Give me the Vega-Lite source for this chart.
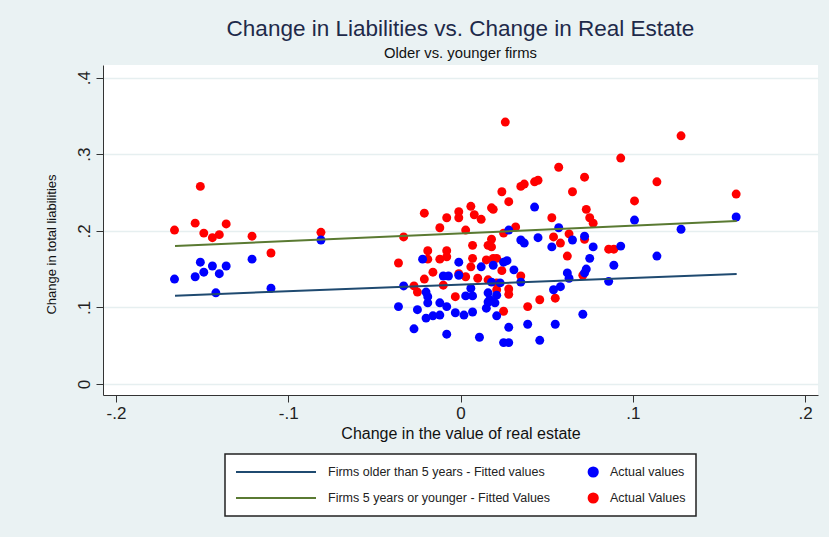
{
  "$schema": "https://vega.github.io/schema/vega-lite/v6.json",
  "width": 715,
  "height": 330,
  "autosize": {"type": "none"},
  "padding": {"left": 103, "top": 65, "right": 11, "bottom": 142},
  "background": "#eaf2f3",
  "title": {
    "text": "Change in Liabilities vs. Change in Real Estate",
    "subtitle": "Older vs. younger firms",
    "anchor": "middle",
    "frame": "group",
    "font": "Liberation Sans",
    "fontSize": 22.5,
    "fontWeight": "normal",
    "color": "#1e2a4a",
    "subtitleFont": "Liberation Sans",
    "subtitleFontSize": 14.8,
    "subtitleColor": "#111111",
    "subtitlePadding": 6,
    "offset": 4
  },
  "config": {
    "view": {"fill": "white", "stroke": null},
    "font": "Liberation Sans"
  },
  "datasets": {
    "pts": [
      {"x": -0.166, "y": 0.201, "s": "Actual Values"},
      {"x": -0.154, "y": 0.210, "s": "Actual Values"},
      {"x": -0.151, "y": 0.258, "s": "Actual Values"},
      {"x": -0.149, "y": 0.197, "s": "Actual Values"},
      {"x": -0.144, "y": 0.191, "s": "Actual Values"},
      {"x": -0.140, "y": 0.195, "s": "Actual Values"},
      {"x": -0.136, "y": 0.209, "s": "Actual Values"},
      {"x": -0.121, "y": 0.193, "s": "Actual Values"},
      {"x": -0.110, "y": 0.171, "s": "Actual Values"},
      {"x": -0.081, "y": 0.198, "s": "Actual Values"},
      {"x": -0.033, "y": 0.192, "s": "Actual Values"},
      {"x": -0.036, "y": 0.158, "s": "Actual Values"},
      {"x": -0.021, "y": 0.223, "s": "Actual Values"},
      {"x": -0.012, "y": 0.204, "s": "Actual Values"},
      {"x": -0.008, "y": 0.217, "s": "Actual Values"},
      {"x": -0.001, "y": 0.225, "s": "Actual Values"},
      {"x": -0.001, "y": 0.217, "s": "Actual Values"},
      {"x": -0.019, "y": 0.174, "s": "Actual Values"},
      {"x": -0.019, "y": 0.163, "s": "Actual Values"},
      {"x": -0.012, "y": 0.163, "s": "Actual Values"},
      {"x": -0.008, "y": 0.174, "s": "Actual Values"},
      {"x": -0.008, "y": 0.166, "s": "Actual Values"},
      {"x": -0.016, "y": 0.146, "s": "Actual Values"},
      {"x": -0.021, "y": 0.137, "s": "Actual Values"},
      {"x": -0.027, "y": 0.128, "s": "Actual Values"},
      {"x": -0.025, "y": 0.120, "s": "Actual Values"},
      {"x": -0.010, "y": 0.129, "s": "Actual Values"},
      {"x": -0.003, "y": 0.114, "s": "Actual Values"},
      {"x": -0.001, "y": 0.144, "s": "Actual Values"},
      {"x": 0.003, "y": 0.140, "s": "Actual Values"},
      {"x": 0.006, "y": 0.232, "s": "Actual Values"},
      {"x": 0.008, "y": 0.221, "s": "Actual Values"},
      {"x": 0.012, "y": 0.215, "s": "Actual Values"},
      {"x": 0.018, "y": 0.230, "s": "Actual Values"},
      {"x": 0.003, "y": 0.201, "s": "Actual Values"},
      {"x": 0.007, "y": 0.181, "s": "Actual Values"},
      {"x": 0.016, "y": 0.181, "s": "Actual Values"},
      {"x": 0.007, "y": 0.164, "s": "Actual Values"},
      {"x": 0.006, "y": 0.153, "s": "Actual Values"},
      {"x": 0.015, "y": 0.162, "s": "Actual Values"},
      {"x": 0.019, "y": 0.164, "s": "Actual Values"},
      {"x": 0.010, "y": 0.138, "s": "Actual Values"},
      {"x": 0.016, "y": 0.136, "s": "Actual Values"},
      {"x": 0.021, "y": 0.132, "s": "Actual Values"},
      {"x": 0.024, "y": 0.148, "s": "Actual Values"},
      {"x": 0.021, "y": 0.123, "s": "Actual Values"},
      {"x": 0.028, "y": 0.124, "s": "Actual Values"},
      {"x": 0.028, "y": 0.117, "s": "Actual Values"},
      {"x": 0.025, "y": 0.095, "s": "Actual Values"},
      {"x": 0.026, "y": 0.342, "s": "Actual Values"},
      {"x": 0.057, "y": 0.283, "s": "Actual Values"},
      {"x": 0.072, "y": 0.270, "s": "Actual Values"},
      {"x": 0.024, "y": 0.251, "s": "Actual Values"},
      {"x": 0.035, "y": 0.258, "s": "Actual Values"},
      {"x": 0.037, "y": 0.261, "s": "Actual Values"},
      {"x": 0.043, "y": 0.264, "s": "Actual Values"},
      {"x": 0.045, "y": 0.266, "s": "Actual Values"},
      {"x": 0.065, "y": 0.251, "s": "Actual Values"},
      {"x": 0.028, "y": 0.238, "s": "Actual Values"},
      {"x": 0.019, "y": 0.228, "s": "Actual Values"},
      {"x": 0.073, "y": 0.228, "s": "Actual Values"},
      {"x": 0.075, "y": 0.217, "s": "Actual Values"},
      {"x": 0.077, "y": 0.210, "s": "Actual Values"},
      {"x": 0.053, "y": 0.217, "s": "Actual Values"},
      {"x": 0.032, "y": 0.205, "s": "Actual Values"},
      {"x": 0.025, "y": 0.197, "s": "Actual Values"},
      {"x": 0.054, "y": 0.192, "s": "Actual Values"},
      {"x": 0.063, "y": 0.196, "s": "Actual Values"},
      {"x": 0.072, "y": 0.189, "s": "Actual Values"},
      {"x": 0.058, "y": 0.184, "s": "Actual Values"},
      {"x": 0.062, "y": 0.167, "s": "Actual Values"},
      {"x": 0.018, "y": 0.189, "s": "Actual Values"},
      {"x": 0.018, "y": 0.179, "s": "Actual Values"},
      {"x": 0.021, "y": 0.164, "s": "Actual Values"},
      {"x": 0.035, "y": 0.141, "s": "Actual Values"},
      {"x": 0.071, "y": 0.142, "s": "Actual Values"},
      {"x": 0.039, "y": 0.101, "s": "Actual Values"},
      {"x": 0.046, "y": 0.110, "s": "Actual Values"},
      {"x": 0.055, "y": 0.112, "s": "Actual Values"},
      {"x": 0.093, "y": 0.295, "s": "Actual Values"},
      {"x": 0.128, "y": 0.324, "s": "Actual Values"},
      {"x": 0.114, "y": 0.264, "s": "Actual Values"},
      {"x": 0.160, "y": 0.248, "s": "Actual Values"},
      {"x": 0.101, "y": 0.239, "s": "Actual Values"},
      {"x": 0.086, "y": 0.176, "s": "Actual Values"},
      {"x": 0.089, "y": 0.176, "s": "Actual Values"},
      {"x": -0.166, "y": 0.137, "s": "Actual values"},
      {"x": -0.154, "y": 0.140, "s": "Actual values"},
      {"x": -0.151, "y": 0.159, "s": "Actual values"},
      {"x": -0.149, "y": 0.146, "s": "Actual values"},
      {"x": -0.144, "y": 0.154, "s": "Actual values"},
      {"x": -0.140, "y": 0.144, "s": "Actual values"},
      {"x": -0.136, "y": 0.154, "s": "Actual values"},
      {"x": -0.142, "y": 0.119, "s": "Actual values"},
      {"x": -0.121, "y": 0.163, "s": "Actual values"},
      {"x": -0.110, "y": 0.125, "s": "Actual values"},
      {"x": -0.081, "y": 0.188, "s": "Actual values"},
      {"x": -0.036, "y": 0.101, "s": "Actual values"},
      {"x": -0.033, "y": 0.128, "s": "Actual values"},
      {"x": -0.027, "y": 0.072, "s": "Actual values"},
      {"x": -0.025, "y": 0.097, "s": "Actual values"},
      {"x": -0.022, "y": 0.163, "s": "Actual values"},
      {"x": -0.020, "y": 0.120, "s": "Actual values"},
      {"x": -0.019, "y": 0.114, "s": "Actual values"},
      {"x": -0.019, "y": 0.106, "s": "Actual values"},
      {"x": -0.020, "y": 0.086, "s": "Actual values"},
      {"x": -0.016, "y": 0.089, "s": "Actual values"},
      {"x": -0.012, "y": 0.106, "s": "Actual values"},
      {"x": -0.012, "y": 0.090, "s": "Actual values"},
      {"x": -0.010, "y": 0.141, "s": "Actual values"},
      {"x": -0.007, "y": 0.141, "s": "Actual values"},
      {"x": -0.008, "y": 0.101, "s": "Actual values"},
      {"x": -0.008, "y": 0.065, "s": "Actual values"},
      {"x": -0.003, "y": 0.093, "s": "Actual values"},
      {"x": -0.001, "y": 0.159, "s": "Actual values"},
      {"x": -0.001, "y": 0.142, "s": "Actual values"},
      {"x": 0.002, "y": 0.090, "s": "Actual values"},
      {"x": 0.007, "y": 0.094, "s": "Actual values"},
      {"x": 0.012, "y": 0.153, "s": "Actual values"},
      {"x": 0.019, "y": 0.155, "s": "Actual values"},
      {"x": 0.025, "y": 0.159, "s": "Actual values"},
      {"x": 0.027, "y": 0.161, "s": "Actual values"},
      {"x": 0.031, "y": 0.149, "s": "Actual values"},
      {"x": 0.035, "y": 0.133, "s": "Actual values"},
      {"x": 0.006, "y": 0.125, "s": "Actual values"},
      {"x": 0.007, "y": 0.115, "s": "Actual values"},
      {"x": 0.003, "y": 0.115, "s": "Actual values"},
      {"x": 0.016, "y": 0.107, "s": "Actual values"},
      {"x": 0.015, "y": 0.099, "s": "Actual values"},
      {"x": 0.018, "y": 0.133, "s": "Actual values"},
      {"x": 0.023, "y": 0.132, "s": "Actual values"},
      {"x": 0.016, "y": 0.119, "s": "Actual values"},
      {"x": 0.017, "y": 0.110, "s": "Actual values"},
      {"x": 0.021, "y": 0.116, "s": "Actual values"},
      {"x": 0.020, "y": 0.106, "s": "Actual values"},
      {"x": 0.021, "y": 0.089, "s": "Actual values"},
      {"x": 0.011, "y": 0.061, "s": "Actual values"},
      {"x": 0.028, "y": 0.074, "s": "Actual values"},
      {"x": 0.025, "y": 0.054, "s": "Actual values"},
      {"x": 0.028, "y": 0.054, "s": "Actual values"},
      {"x": 0.039, "y": 0.078, "s": "Actual values"},
      {"x": 0.046, "y": 0.057, "s": "Actual values"},
      {"x": 0.055, "y": 0.078, "s": "Actual values"},
      {"x": 0.054, "y": 0.123, "s": "Actual values"},
      {"x": 0.058, "y": 0.127, "s": "Actual values"},
      {"x": 0.062, "y": 0.145, "s": "Actual values"},
      {"x": 0.063, "y": 0.138, "s": "Actual values"},
      {"x": 0.072, "y": 0.145, "s": "Actual values"},
      {"x": 0.073, "y": 0.150, "s": "Actual values"},
      {"x": 0.071, "y": 0.091, "s": "Actual values"},
      {"x": 0.086, "y": 0.134, "s": "Actual values"},
      {"x": 0.089, "y": 0.155, "s": "Actual values"},
      {"x": 0.043, "y": 0.231, "s": "Actual values"},
      {"x": 0.028, "y": 0.201, "s": "Actual values"},
      {"x": 0.057, "y": 0.204, "s": "Actual values"},
      {"x": 0.035, "y": 0.188, "s": "Actual values"},
      {"x": 0.037, "y": 0.184, "s": "Actual values"},
      {"x": 0.045, "y": 0.191, "s": "Actual values"},
      {"x": 0.053, "y": 0.179, "s": "Actual values"},
      {"x": 0.065, "y": 0.188, "s": "Actual values"},
      {"x": 0.072, "y": 0.193, "s": "Actual values"},
      {"x": 0.077, "y": 0.179, "s": "Actual values"},
      {"x": 0.075, "y": 0.164, "s": "Actual values"},
      {"x": 0.093, "y": 0.180, "s": "Actual values"},
      {"x": 0.114, "y": 0.167, "s": "Actual values"},
      {"x": 0.101, "y": 0.214, "s": "Actual values"},
      {"x": 0.160, "y": 0.218, "s": "Actual values"},
      {"x": 0.128, "y": 0.202, "s": "Actual values"}
    ],
    "fit": [
      {"x": -0.1657, "y": 0.1153, "s": "Firms older than 5 years - Fitted values"},
      {"x": 0.1603, "y": 0.1436, "s": "Firms older than 5 years - Fitted values"},
      {"x": -0.1657, "y": 0.1800, "s": "Firms 5 years or younger - Fitted Values"},
      {"x": 0.1603, "y": 0.2128, "s": "Firms 5 years or younger - Fitted Values"}
    ]
  },
  "encoding": {
    "x": {
      "field": "x",
      "type": "quantitative",
      "scale": {"domain": [-0.2075, 0.2075], "nice": false, "zero": false},
      "axis": {
        "title": "Change in the value of real estate",
        "values": [-0.2, -0.1, 0, 0.1, 0.2],
        "labelExpr": "datum.value < 0 ? '-.' + toString(round(abs(datum.value) * 10)) : (datum.value > 0 ? '.' + toString(round(datum.value * 10)) : '0')",
        "grid": false,
        "domainColor": "#333333",
        "tickColor": "#333333",
        "tickSize": 7,
        "labelFont": "Liberation Sans",
        "labelFontSize": 17,
        "labelColor": "#222222",
        "labelPadding": 3,
        "titleFont": "Liberation Sans",
        "titleFontSize": 16,
        "titleFontWeight": "normal",
        "titleColor": "#111111",
        "titlePadding": 4
      }
    },
    "y": {
      "field": "y",
      "type": "quantitative",
      "scale": {"domain": [-0.0144, 0.4165], "nice": false, "zero": false},
      "axis": {
        "title": "Change in total liabilities",
        "values": [0, 0.1, 0.2, 0.3, 0.4],
        "labelExpr": "datum.value > 0 ? '.' + toString(round(datum.value * 10)) : '0'",
        "grid": true,
        "gridColor": "#e6eff0",
        "gridWidth": 1.5,
        "domainColor": "#333333",
        "tickColor": "#333333",
        "tickSize": 7,
        "labelAngle": -90,
        "labelAlign": "center",
        "labelBaseline": "bottom",
        "labelFont": "Liberation Sans",
        "labelFontSize": 17,
        "labelColor": "#222222",
        "labelPadding": 3,
        "titleFont": "Liberation Sans",
        "titleFontSize": 13,
        "titleFontWeight": "normal",
        "titleColor": "#111111",
        "titlePadding": 17,
        "titleY": 179
      }
    },
    "color": {
      "field": "s",
      "type": "nominal",
      "scale": {
        "domain": ["Firms older than 5 years - Fitted values", "Firms 5 years or younger - Fitted Values", "Actual values", "Actual Values"],
        "range": ["#1f4a70", "#5a7a32", "#0000ff", "#ff0000"]
      },
      "legend": {
        "title": null,
        "orient": "none",
        "legendX": 122,
        "legendY": 389,
        "columns": 2,
        "symbolType": "stroke",
        "symbolSize": 6400,
        "symbolStrokeWidth": 2,
        "clipHeight": 16,
        "labelFont": "Liberation Sans",
        "labelFontSize": 12.5,
        "labelColor": "#222222",
        "labelLimit": 400,
        "labelOffset": 11,
        "rowPadding": 10,
        "columnPadding": 0,
        "padding": 10,
        "fillColor": "white",
        "strokeColor": "#222222",
        "encode": {
          "legend": {"update": {"strokeWidth": {"value": 1.5}}},
          "labels": {
            "update": {
              "dx": {"signal": "indexof(datum.value, 'Actual') >= 0 ? -34 : 0"}
            }
          },
          "symbols": {
            "update": {
              "shape": {"signal": "indexof(datum.value, 'Actual') >= 0 ? 'M-0.085,0A0.115,0.115,0,1,1,0.145,0A0.115,0.115,0,1,1,-0.085,0Z' : 'stroke'"},
              "fill": {"scale": "color", "field": "value"},
              "stroke": {"signal": "indexof(datum.value, 'Actual') >= 0 ? 'transparent' : scale('color', datum.value)"},
              "opacity": {"value": 1}
            }
          }
        }
      }
    }
  },
  "layer": [
    {
      "data": {"name": "pts"},
      "mark": {"type": "circle", "size": 80, "opacity": 1}
    },
    {
      "data": {"name": "fit"},
      "mark": {"type": "line", "strokeWidth": 2}
    }
  ]
}
